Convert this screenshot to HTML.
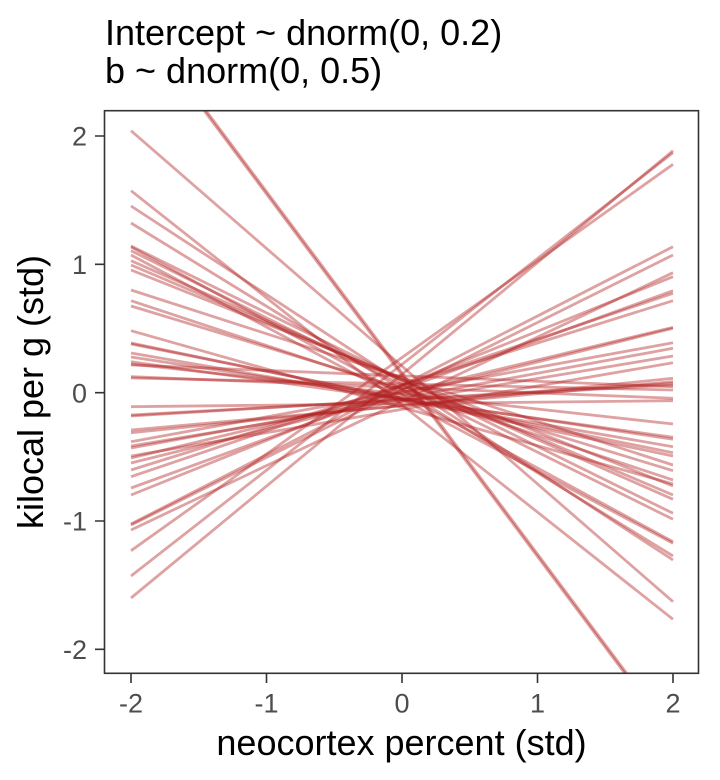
<!DOCTYPE html>
<html>
<head>
<meta charset="utf-8">
<style>
html,body{margin:0;padding:0;background:#fff}
body{width:720px;height:780px;overflow:hidden}
svg{display:block}
text{font-family:"Liberation Sans","DejaVu Sans",sans-serif}
</style>
</head>
<body>
<svg width="720" height="780" viewBox="0 0 720 780" xmlns="http://www.w3.org/2000/svg">
<rect width="720" height="780" fill="#fff"/>
<defs><clipPath id="p"><rect x="104.5" y="110.7" width="594" height="562.6"/></clipPath></defs>
<text x="105" y="45" font-size="36">Intercept ~ dnorm(0, 0.2)</text>
<text x="105" y="83" font-size="36">b ~ dnorm(0, 0.5)</text>
<g clip-path="url(#p)" stroke="#b22222" stroke-opacity="0.42" stroke-width="2.8" fill="none">
<path d="M131 130.7L673 601.7"/><path d="M131 190.7L673 619.3"/><path d="M131 206L673 560"/>
<path d="M131 223L673 556"/><path d="M131 246L673 513.3"/><path d="M131 247L673 541.7"/>
<path d="M131 250.7L673 519.3"/><path d="M131 255L673 543.3"/><path d="M131 260.7L673 499.3"/>
<path d="M131 265L673 495"/><path d="M131 270L673 486"/><path d="M131 290L673 465"/>
<path d="M131 300.7L673 480"/><path d="M131 306L673 470.7"/><path d="M131 330.7L673 484"/>
<path d="M131 343L673 456"/><path d="M131 344L673 452.7"/><path d="M131 353L673 446.7"/>
<path d="M131 357L673 439.3"/><path d="M131 361.7L673 437.3"/><path d="M131 364L673 424"/>
<path d="M131 365L673 386.7"/><path d="M131 376.7L673 398.3"/><path d="M131 378L673 390"/>
<path d="M131 406.7L673 400.7"/><path d="M131 415L673 385"/><path d="M131 416L673 383.3"/>
<path d="M131 430L673 381.7"/><path d="M131 432.7L673 378.3"/><path d="M131 441.7L673 342.7"/>
<path d="M131 446L673 356"/><path d="M131 448L673 348.3"/><path d="M131 456L673 362.7"/>
<path d="M131 458L673 327.3"/><path d="M131 463L673 328.3"/><path d="M131 470L673 300.7"/>
<path d="M131 476.7L673 293.3"/><path d="M131 488L673 290.7"/><path d="M131 495L673 276.7"/>
<path d="M131 524L673 246.7"/><path d="M131 525L673 255"/><path d="M131 530L673 272.7"/>
<path d="M131 550.7L673 164.3"/><path d="M131 576L673 152.7"/><path d="M131 598L673 150.7"/>
<path d="M131 10.3L673 735.3"/><path d="M131 12.8L673 737.8"/>
</g>
<rect x="104.5" y="110.7" width="594" height="562.6" fill="none" stroke="#333" stroke-width="1.6"/>
<path stroke="#333" stroke-width="1.6" d="M95 136H104.5M95 264.3H104.5M95 392.7H104.5M95 521H104.5M95 649.3H104.5M131 673.3V683M266.5 673.3V683M402 673.3V683M537.5 673.3V683M673 673.3V683"/>
<g font-size="27" fill="#4d4d4d" text-anchor="end">
<text x="87" y="145.7">2</text>
<text x="87" y="274">1</text>
<text x="87" y="402.4">0</text>
<text x="87" y="530.7">-1</text>
<text x="87" y="659">-2</text>
</g>
<g font-size="27" fill="#4d4d4d" text-anchor="middle">
<text x="131" y="712.7">-2</text>
<text x="266.5" y="712.7">-1</text>
<text x="402" y="712.7">0</text>
<text x="537.5" y="712.7">1</text>
<text x="673" y="712.7">2</text>
</g>
<text x="401.5" y="755" font-size="36" text-anchor="middle">neocortex percent (std)</text>
<text transform="translate(43,392) rotate(-90)" font-size="36" text-anchor="middle">kilocal per g (std)</text>
</svg>
</body>
</html>
